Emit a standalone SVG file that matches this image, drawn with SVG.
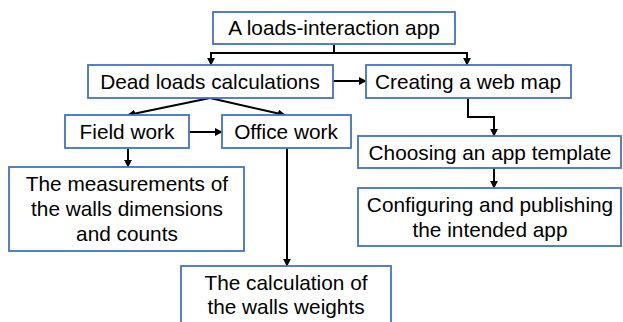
<svg xmlns="http://www.w3.org/2000/svg" width="623" height="322" viewBox="0 0 623 322">
<defs>
<style>
.box{fill:#fff;stroke:#4472C4;stroke-width:1.8}
.t{font-family:"Liberation Sans",Arial,sans-serif;font-size:20.8px;fill:#000;text-anchor:middle}
.c{fill:none;stroke:#000;stroke-width:2;marker-end:url(#ah)}
</style>
<marker id="ah" viewBox="0 0 10 10" refX="9" refY="5" markerWidth="4" markerHeight="4" orient="auto" markerUnits="strokeWidth">
<path d="M0,0 L10,5 L0,10 z" fill="#000"/>
</marker>
</defs>
<rect width="623" height="322" fill="#fff"/>
<g id="connectors">
<path class="c" d="M334,44 V53 H211 V65"/>
<path class="c" d="M334,53 H467 V65"/>
<path class="c" d="M333,81 H366"/>
<path class="c" d="M468,98 V117 H494 V136"/>
<path class="c" d="M494,168 V188"/>
<path class="c" d="M210,98 L128,115"/>
<path class="c" d="M210,98 L285,115"/>
<path class="c" d="M189,132 H222"/>
<path class="c" d="M128,148 V167"/>
<path class="c" d="M287,148 V266"/>
</g>
<g id="n1"><rect class="box" x="213" y="12" width="242" height="32"/><text class="t" x="334" y="35">A loads-interaction app</text></g>
<g id="n2"><rect class="box" x="88" y="65" width="245" height="33"/><text class="t" x="210" y="89">Dead loads calculations</text></g>
<g id="n3"><rect class="box" x="366" y="65" width="205" height="33"/><text class="t" x="468" y="89">Creating a web map</text></g>
<g id="n4"><rect class="box" x="65" y="115" width="124" height="33"/><text class="t" x="127" y="139">Field work</text></g>
<g id="n5"><rect class="box" x="222" y="115" width="129" height="33"/><text class="t" x="286" y="139">Office work</text></g>
<g id="n6"><rect class="box" x="9" y="167" width="235" height="84"/><text class="t" x="127" y="191">The measurements of</text><text class="t" x="127" y="216">the walls dimensions</text><text class="t" x="127" y="241">and counts</text></g>
<g id="n7"><rect class="box" x="181" y="266" width="210" height="60"/><text class="t" x="286" y="290">The calculation of</text><text class="t" x="286" y="314">the walls weights</text></g>
<g id="n8"><rect class="box" x="358" y="136" width="263" height="32"/><text class="t" x="490" y="160">Choosing an app template</text></g>
<g id="n9"><rect class="box" x="358" y="188" width="263" height="58"/><text class="t" x="490" y="212">Configuring and publishing</text><text class="t" x="490" y="237">the intended app</text></g>
</svg>
